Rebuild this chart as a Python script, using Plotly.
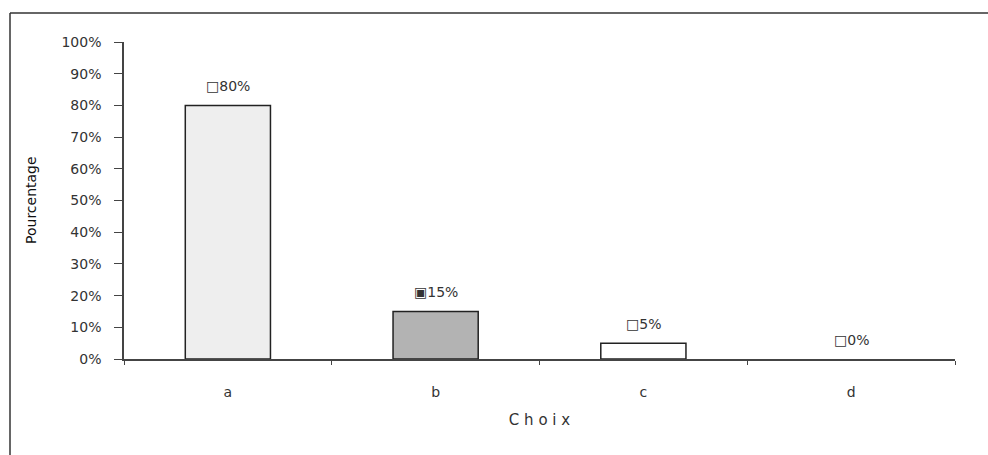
import plotly.graph_objects as go

categories = ["a", "b", "c", "d"]
values = [0.80, 0.15, 0.05, 0.0]
bar_colors = ["#eeeeee", "#b3b3b3", "#ffffff", "#ffffff"]
key_symbols = ["□", "▣", "□", "□"]
label_texts = ["80%", "15%", "5%", "0%"]
y_ticks = [i / 10 for i in range(11)]
y_tick_labels = [f"{i*10}%" for i in range(11)]

FONT = "DejaVu Sans, Verdana, Arial"

fig = go.Figure()
fig.add_trace(go.Bar(
    x=categories, y=values,
    marker=dict(color=bar_colors,
                line=dict(color="#222222", width=[1.5 if v > 0 else 0 for v in values])),
    width=0.41,
    hoverinfo="skip",
))

for c, v, t, k in zip(categories, values, label_texts, key_symbols):
    fig.add_annotation(
        x=c, y=v, xref="x", yref="y",
        text=f"{k}{t}",
        showarrow=False, yanchor="bottom", yshift=9,
        font=dict(family=FONT, size=14, color="#333333"),
    )

plot_w = 988 - 124 - 33
plot_h = 455 - 42 - 96
def px_to_paper_x(px):
    return (px - 124) / plot_w
def px_to_paper_y(py):
    return (455 - 96 - py) / plot_h

fig.add_annotation(
    x=px_to_paper_x(31), y=px_to_paper_y(200), xref="paper", yref="paper",
    text="Pourcentage", textangle=-90, xanchor="center", yanchor="middle",
    showarrow=False, font=dict(family=FONT, size=14, color="#111111"),
)

fig.update_layout(
    width=988, height=455,
    margin=dict(l=124, r=33, t=42, b=96),
    paper_bgcolor="white", plot_bgcolor="white",
    showlegend=False,
    font=dict(family=FONT, size=14, color="#333333"),
    xaxis=dict(
        showline=True, linecolor="#444444", linewidth=1.5,
        ticks="outside", tickson="boundaries", ticklen=4, tickcolor="#444444",
        ticklabelstandoff=19, showgrid=False,
        title=dict(text="C h o i x", font=dict(family=FONT, size=15, color="#333333"), standoff=16),
    ),
    yaxis=dict(
        range=[0, 1], tickvals=y_ticks, ticktext=y_tick_labels,
        showline=True, linecolor="#444444", linewidth=1.5,
        ticks="outside", ticklen=8, tickcolor="#444444",
        ticklabelstandoff=10, showgrid=False, zeroline=False,
    ),
)

fig.add_shape(type="line", xref="paper", yref="paper",
              x0=px_to_paper_x(10), x1=px_to_paper_x(988), y0=px_to_paper_y(13), y1=px_to_paper_y(13),
              line=dict(color="#333333", width=1.5))
fig.add_shape(type="line", xref="paper", yref="paper",
              x0=px_to_paper_x(10), x1=px_to_paper_x(10), y0=px_to_paper_y(13), y1=px_to_paper_y(455),
              line=dict(color="#333333", width=1.5))

fig.write_html("out.html")
